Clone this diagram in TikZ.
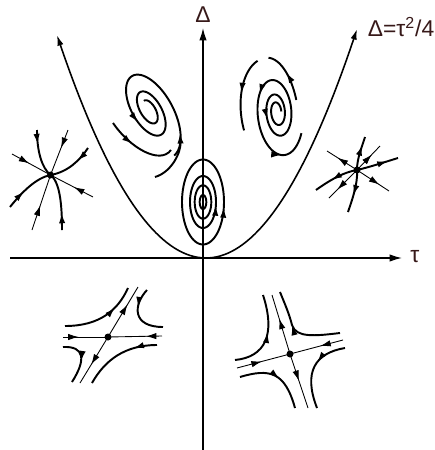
\documentclass[tikz,border=0pt]{standalone}
\usepackage{fontspec}
\setmainfont{Liberation Sans}
\usetikzlibrary{arrows.meta,decorations.markings}
\definecolor{labelink}{RGB}{55,25,25}

\begin{document}
\begin{tikzpicture}[
  x=0.02cm, y=-0.02cm,
  >={Latex[length=6pt,width=3.6pt]},
  axis/.style={line width=0.8pt,-{Latex[length=7pt,width=4.2pt]}},
  traj/.style={line width=1.1pt},
  eigen/.style={line width=0.5pt},
  fixpt/.style={circle,fill=black,inner sep=0pt,minimum size=0.14cm},
  flow/.style={postaction={decorate,decoration={markings,mark=at position #1 with {\arrow{>}}}}},
  lbl/.style={text=labelink,font=\fontsize{13}{15}\selectfont,inner sep=1pt}
]
\useasboundingbox (0,0) rectangle (435,450);

% axes and the parabola
\coordinate (ybot) at (203,450);
\coordinate (ytop) at (203,28);
\coordinate (xleft) at (10,258);
\coordinate (xright) at (402,258);
\draw[axis] (ybot) -- (ytop);
\draw[axis] (xleft) -- (xright);
\draw[traj,line width=0.9pt,<->] plot[domain=-149:151,samples=80] ({206+\x},{258-100.4*(\x/100)*(\x/100)});
\node[lbl] (dlabel) at (203,15) {Δ};
\node[lbl] (tlabel) at (415,257) {τ};
\node[lbl] (plabel) at (401,27) {Δ=τ\textsuperscript{2}/4};

% stable node
\node[fixpt] (snode) at (50.5,175) {};
\draw[eigen,flow=0.45] (12,154) -- (snode.center);
\draw[eigen,flow=0.45] (93,197) -- (snode.center);
\draw[eigen,flow=0.4] (68,130) -- (snode.center);
\draw[eigen,flow=0.45] (32,230) -- (snode.center);
\draw[traj,flow=0.3] (37,130) .. controls (37,152) and (42,168) .. (snode.center);
\draw[traj,flow=0.35] (88,148) .. controls (80,160) and (68,172) .. (snode.center);
\draw[traj,flow=0.4] (10,207) .. controls (22,192) and (36,178) .. (snode.center);
\draw[traj,flow=0.3] (62,230) .. controls (62,205) and (60,182) .. (snode.center);

% unstable node
\node[fixpt] (unode) at (357,170) {};
\draw[eigen,flow=0.65] (unode.center) -- (327,151);
\draw[eigen,flow=0.7] (unode.center) -- (389,191);
\draw[eigen,flow=0.65] (unode.center) -- (380,146);
\draw[eigen,flow=0.7] (unode.center) -- (329,198);
\draw[traj,flow=0.75] (unode.center) .. controls (357,158) and (362,147) .. (365,137);
\draw[traj,flow=0.75] (unode.center) .. controls (370,167) and (385,162) .. (398,158);
\draw[traj,flow=0.6] (unode.center) .. controls (344,172) and (330,180) .. (316,190);
\draw[traj,flow=0.6] (unode.center) .. controls (358,184) and (352,200) .. (348,212);

% stable spiral
\coordinate (sfoc) at (149,110);
\begin{scope}[shift={(sfoc)}, y={(0cm,0.02cm)}, rotate=29]
  \draw[traj,flow=0.5] plot[domain=270:1170,samples=220]
    ({26*exp(-(\x-270)/560)*cos(\x)},{52*exp(-(\x-270)/560)*sin(\x)});
\end{scope}
\draw[traj,flow=0.4] (113,123) .. controls (130,148) and (160,165) .. (171,150);
\draw[traj,->] (155,177) .. controls (172,172) and (181,152) .. (180,133);

% unstable spiral
\coordinate (ufoc) at (277,112);
\begin{scope}[shift={(ufoc)}, y={(0cm,0.02cm)}, rotate=7]
  \draw[traj,flow=0.33,flow=0.68,flow=0.9] plot[domain=0:1050,samples=220]
    ({25*exp((\x-1050)/600)*cos(\x)},{48*exp((\x-1050)/600)*sin(\x)});
  \draw[traj,flow=0.5] plot[domain=105:195,samples=30] ({-5+31*cos(\x)},{55*sin(\x)});
  \draw[traj,flow=0.55] plot[domain=10:85,samples=30] ({-4+25*cos(\x)},{55*sin(\x)});
\end{scope}

% centre
\coordinate (ctr) at (203,202);
\begin{scope}[shift={(ctr)}, y={(0cm,0.02cm)}]
  \draw[traj,flow=0.975] plot[domain=0:360,samples=72] ({21*cos(\x)},{42.5*sin(\x)}) -- cycle;
  \draw[traj,flow=0.975] plot[domain=0:360,samples=72] ({13*cos(\x)},{26*sin(\x)}) -- cycle;
  \draw[traj] plot[domain=0:360,samples=60] ({8.3*cos(\x)},{16.7*sin(\x)}) -- cycle;
  \draw[traj] plot[domain=0:360,samples=40] ({3.3*cos(\x)},{7*sin(\x)}) -- cycle;
\end{scope}

% left saddle
\node[fixpt] (lsad) at (108,337) {};
\draw[eigen,flow=0.35] (63,337) -- (lsad.center);
\draw[eigen,flow=0.3] (162,336) -- (lsad.center);
\draw[eigen,flow=0.65] (lsad.center) -- (138,287);
\draw[eigen,flow=0.6] (lsad.center) -- (80,383);
\draw[traj,flow=0.7] (65,326) .. controls (100,326) and (118,310) .. (128,288);
\draw[traj,flow=0.35] (147,290) .. controls (133,305) and (132,327) .. (163,327);
\draw[traj,flow=0.55] (63,347) .. controls (85,346) and (86,360) .. (72,382);
\draw[traj,flow=0.3] (157,345) .. controls (125,345) and (105,360) .. (92,383);

% right saddle
\node[fixpt] (rsad) at (290,354) {};
\draw[eigen,flow=0.47] (237,368) -- (rsad.center);
\draw[eigen,flow=0.43] (343,340) -- (rsad.center);
\draw[eigen,flow=0.6] (rsad.center) -- (272,295);
\draw[eigen,flow=0.5] (rsad.center) -- (308,408);
\draw[traj,flow=0.55] (235,360) .. controls (265,357) and (276,335) .. (263,295);
\draw[traj,flow=0.6] (340,333) .. controls (315,336) and (296,338) .. (292,325) .. controls (289,313) and (284,302) .. (280,292);
\draw[traj,flow=0.55] (240,377) .. controls (270,368) and (285,372) .. (295,408);
\draw[traj,flow=0.4] (345,348) .. controls (315,353) and (303,372) .. (317,408);
\end{tikzpicture}
\end{document}
